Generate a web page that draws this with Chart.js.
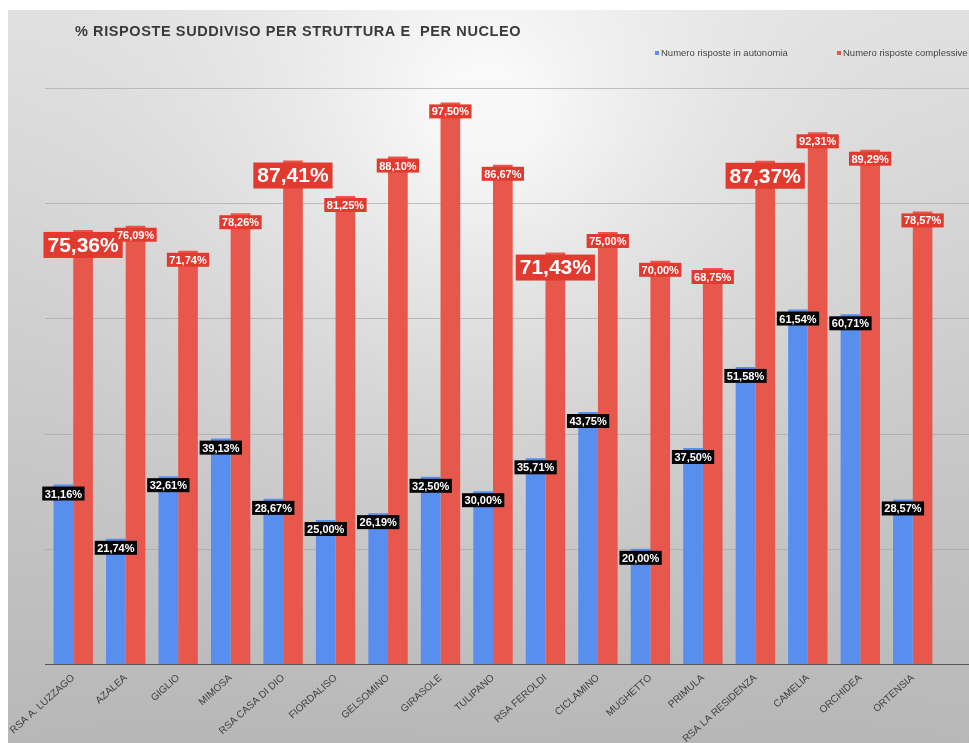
<!DOCTYPE html>
<html>
<head>
<meta charset="utf-8">
<script src="https://cdn.jsdelivr.net/npm/chart.js@4"></script>
<style>
  html, body { margin: 0; padding: 0; background: #fff; }
  #wrap { position: relative; width: 969px; height: 743px; }
</style>
</head>
<body>
<div id="wrap"><canvas id="chart"></canvas></div>
<script>
const categories = [
  'RSA A. LUZZAGO', 'AZALEA', 'GIGLIO', 'MIMOSA', 'RSA CASA DI DIO', 'FIORDALISO',
  'GELSOMINO', 'GIRASOLE', 'TULIPANO', 'RSA FEROLDI', 'CICLAMINO', 'MUGHETTO',
  'PRIMULA', 'RSA LA RESIDENZA', 'CAMELIA', 'ORCHIDEA', 'ORTENSIA'
];
const autonomia = [31.16, 21.74, 32.61, 39.13, 28.67, 25.00, 26.19, 32.50, 30.00, 35.71, 43.75, 20.00, 37.50, 51.58, 61.54, 60.71, 28.57];
const complessive = [75.36, 76.09, 71.74, 78.26, 87.41, 81.25, 88.10, 97.50, 86.67, 71.43, 75.00, 70.00, 68.75, 87.37, 92.31, 89.29, 78.57];
const gridTicks = [0, 20, 40, 60, 80, 100];

const title = '% RISPOSTE SUDDIVISO PER STRUTTURA E  PER NUCLEO';
const seriesNames = ['Numero risposte in autonomia', 'Numero risposte complessive'];

const BLUE = 'rgb(88, 142, 238)';
const RED = 'rgb(232, 87, 75)';
const RED_BOX = 'rgb(226, 58, 47)';

function fmtPct(v) {
  return v.toFixed(2).replace('.', ',') + '%';
}

// the structures (RSA ...) get the big labels
function isStruttura(i) {
  return categories[i].startsWith('RSA');
}

const backgroundPlugin = {
  id: 'bg',
  beforeDraw(chart) {
    const { ctx, width, height } = chart;
    ctx.save();
    ctx.fillStyle = '#ffffff';
    ctx.fillRect(0, 0, width, height);
    const g = ctx.createLinearGradient(0, 10, 0, height);
    g.addColorStop(0, '#fbfbfb');
    g.addColorStop(0.35, '#e9e9e9');
    g.addColorStop(1, '#c9c9c9');
    ctx.fillStyle = g;
    ctx.fillRect(8, 10, width - 8, height - 10);
    // slight darkening towards the sides
    const r = ctx.createRadialGradient(width / 2, 120, 50, width / 2, 300, 800);
    r.addColorStop(0, 'rgba(255,255,255,0.35)');
    r.addColorStop(1, 'rgba(0,0,0,0.06)');
    ctx.fillStyle = r;
    ctx.fillRect(8, 10, width - 8, height - 10);

    // title
    ctx.fillStyle = '#3a3a3a';
    ctx.font = 'bold 14.5px "Liberation Sans", Arial, sans-serif';
    ctx.letterSpacing = '0.6px';
    ctx.textBaseline = 'middle';
    ctx.textAlign = 'left';
    ctx.fillText(title, 75, 32);
    ctx.letterSpacing = '0px';

    // legend
    ctx.font = '9.5px "Liberation Sans Narrow", "Liberation Sans", Arial, sans-serif';
    ctx.fillStyle = BLUE;
    ctx.fillRect(655, 51, 4, 4);
    ctx.fillStyle = RED;
    ctx.fillRect(837, 51, 4, 4);
    ctx.fillStyle = '#444';
    ctx.fillText(seriesNames[0], 661, 53.5);
    ctx.fillText(seriesNames[1], 843, 53.5);

    // grid lines across the full card width
    const y = chart.scales.y;
    gridTicks.forEach((t) => {
      const py = Math.round(y.getPixelForValue(t)) + 0.5;
      ctx.beginPath();
      ctx.moveTo(45, py);
      ctx.lineTo(width, py);
      ctx.lineWidth = t === 0 ? 1.2 : 1;
      ctx.strokeStyle = t === 0 ? '#555' : 'rgba(160,160,160,0.6)';
      ctx.stroke();
    });
    ctx.restore();
  }
};

const labelsPlugin = {
  id: 'barLabels',
  afterDatasetsDraw(chart) {
    const { ctx } = chart;
    ctx.save();
    ctx.textAlign = 'center';
    ctx.textBaseline = 'middle';
    chart.data.datasets.forEach((ds, di) => {
      const meta = chart.getDatasetMeta(di);
      meta.data.forEach((bar, i) => {
        const text = fmtPct(ds.data[i]);
        const big = di === 1 && isStruttura(i);
        ctx.font = big
          ? 'bold 21px "Liberation Sans", Arial, sans-serif'
          : 'bold 11px "Liberation Sans", Arial, sans-serif';
        const tw = ctx.measureText(text).width;
        const bw = tw + (big ? 8 : 5);
        const bh = big ? 26 : 14;
        const top = bar.y + 2;
        ctx.fillStyle = di === 0 ? '#050505' : RED_BOX;
        ctx.fillRect(bar.x - bw / 2, top, bw, bh);
        ctx.fillStyle = '#fff';
        ctx.fillText(text, bar.x, top + bh / 2 + 1);
      });
    });
    ctx.restore();
  }
};

new Chart(document.getElementById('chart'), {
  type: 'bar',
  data: {
    labels: categories,
    datasets: [
      { label: seriesNames[0], data: autonomia, backgroundColor: BLUE, borderWidth: 0 },
      { label: seriesNames[1], data: complessive, backgroundColor: RED, borderWidth: 0 }
    ]
  },
  options: {
    responsive: true,
    maintainAspectRatio: false,
    animation: false,
    devicePixelRatio: 1,
    layout: { padding: { left: 47, right: 30, top: 88, bottom: 0 } },
    datasets: { bar: { categoryPercentage: 0.75, barPercentage: 1.0 } },
    plugins: {
      legend: { display: false },
      title: { display: false },
      tooltip: { enabled: false }
    },
    scales: {
      y: { display: false, min: 0, max: 100 },
      x: {
        grid: { display: false, drawTicks: false },
        border: { display: false },
        ticks: {
          minRotation: 42,
          maxRotation: 42,
          autoSkip: false,
          padding: 8,
          color: '#404040',
          font: { family: '"Liberation Sans", Arial, sans-serif', size: 10 }
        },
        afterFit(scale) {
          scale.height = 79;
          scale.paddingLeft = 0;
          scale.paddingRight = 0;
        }
      }
    }
  },
  plugins: [backgroundPlugin, labelsPlugin]
});
</script>
</body>
</html>
